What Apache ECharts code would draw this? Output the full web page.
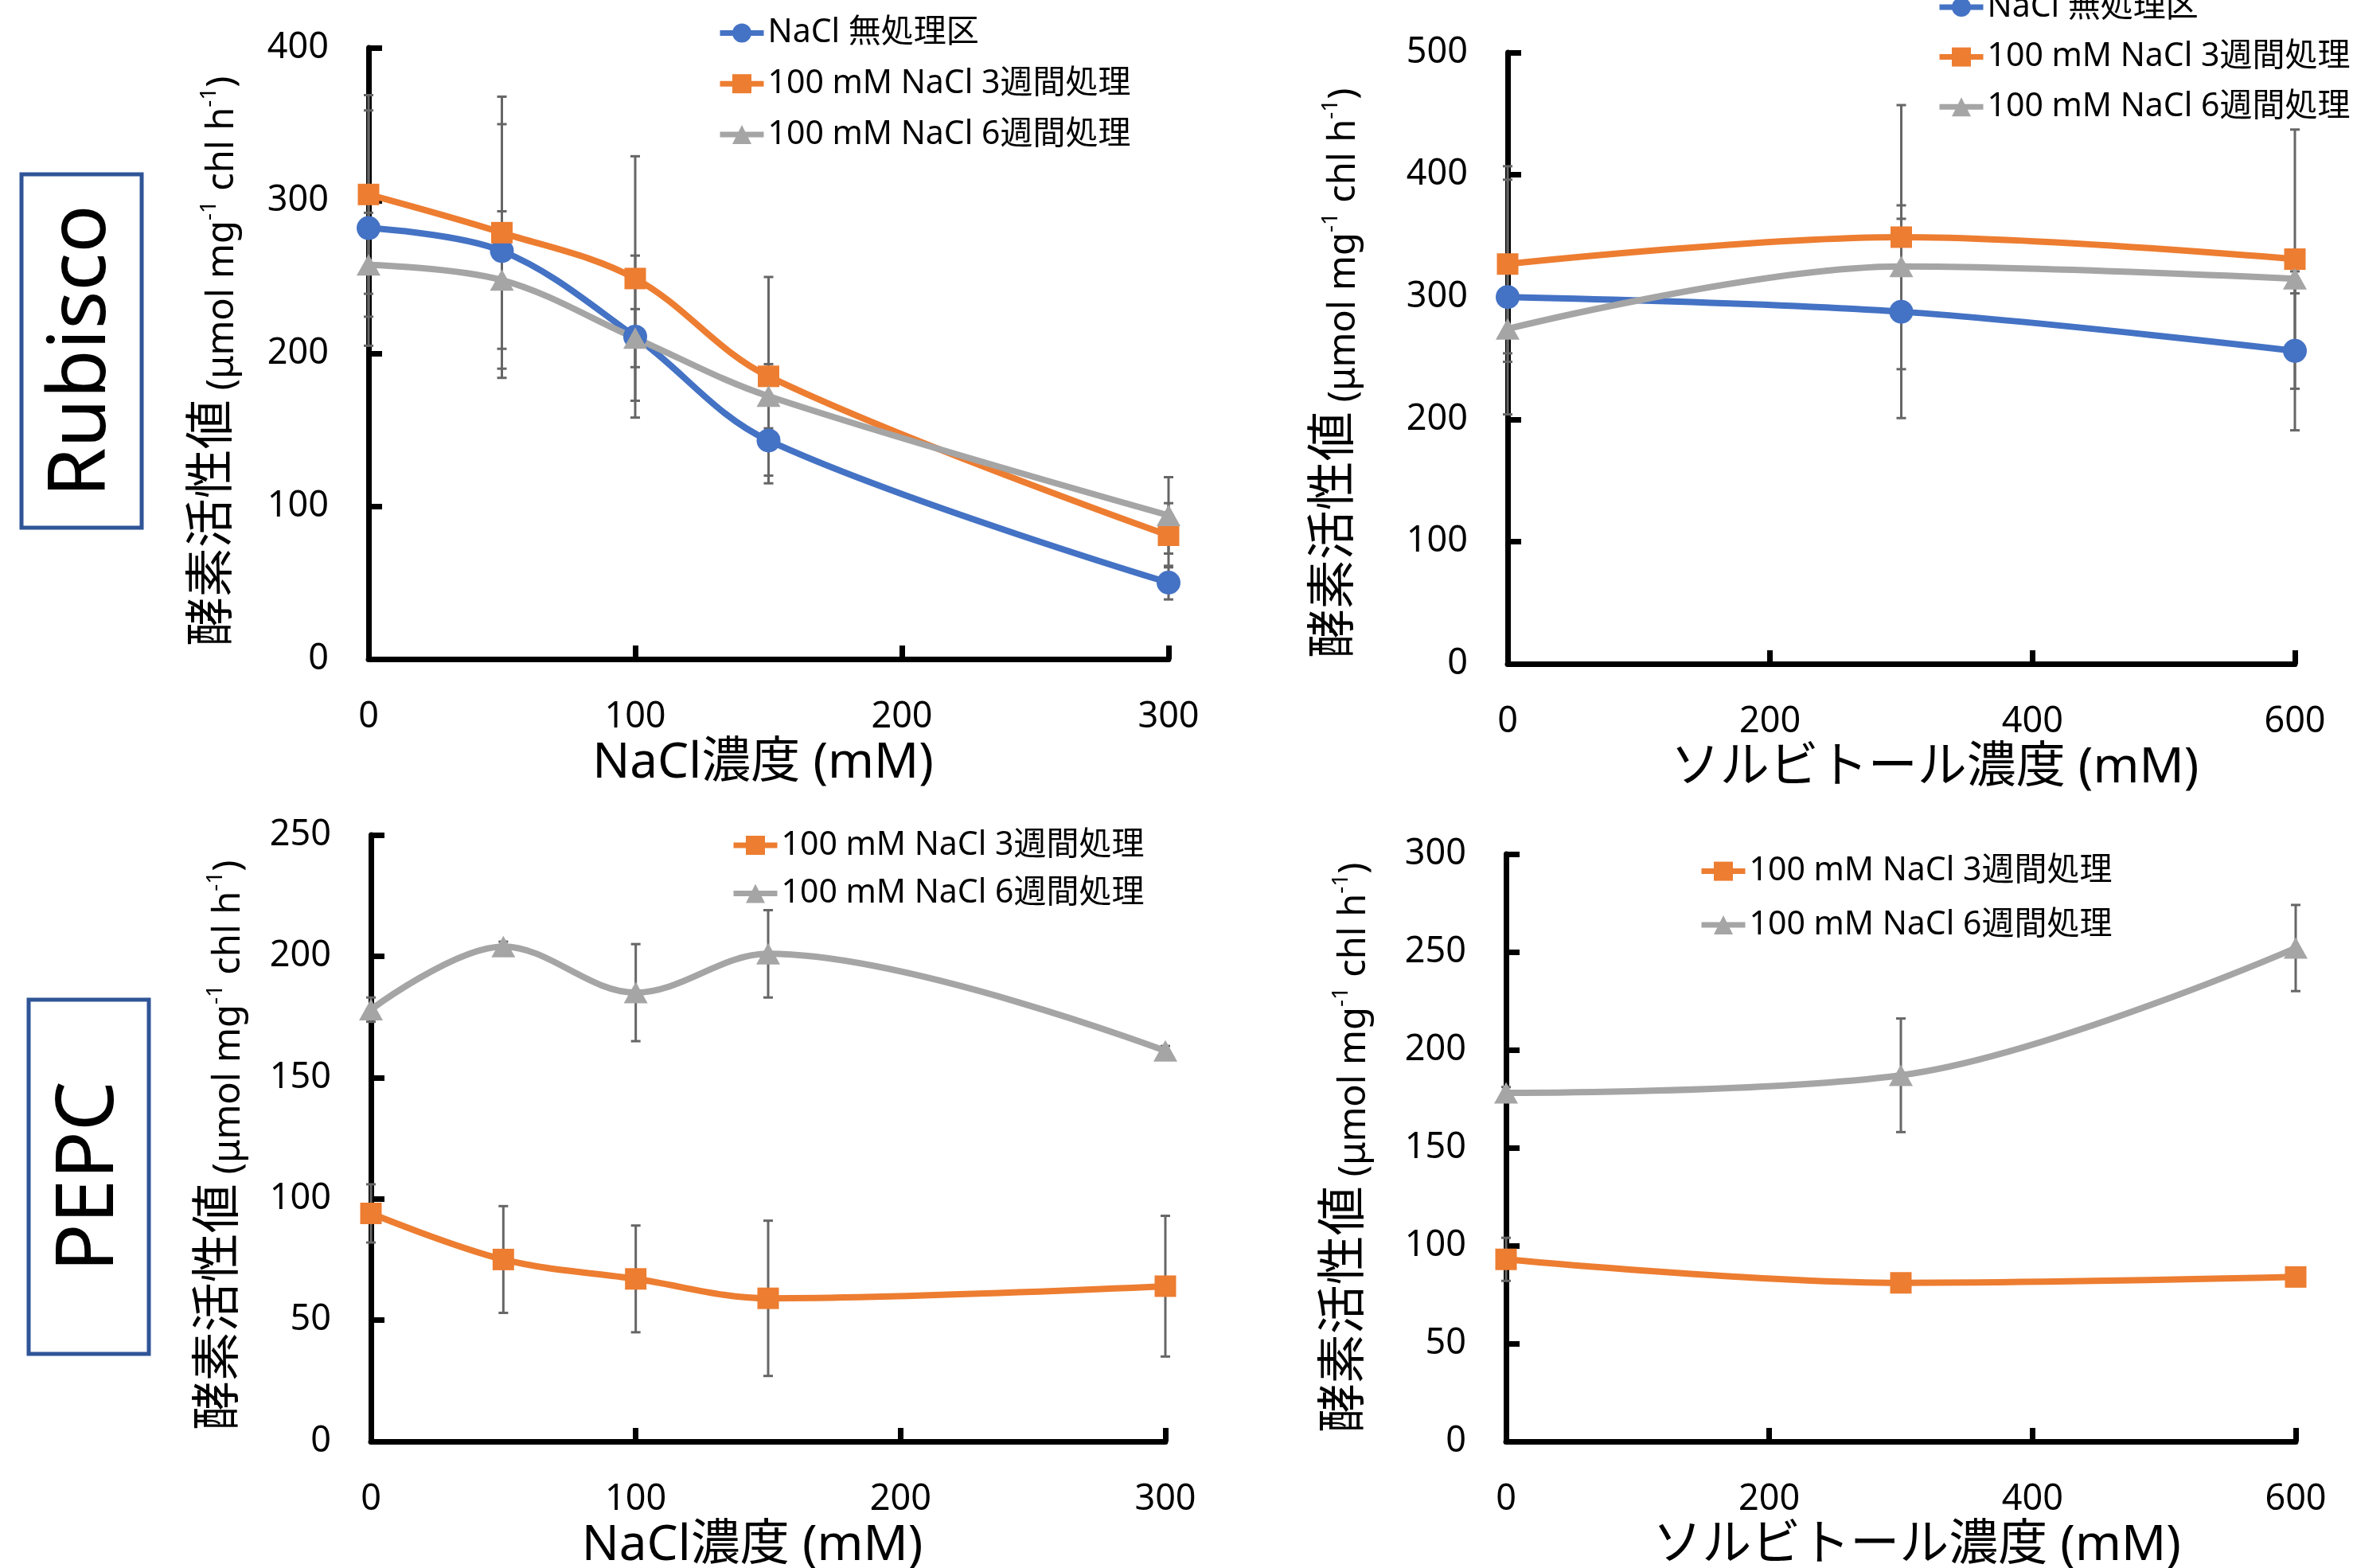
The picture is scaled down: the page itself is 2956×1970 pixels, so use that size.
<!DOCTYPE html>
<html><head><meta charset="utf-8">
<script src="https://cdn.jsdelivr.net/npm/echarts@6/dist/echarts.min.js"></script>
<style>html,body{margin:0;padding:0;background:#fff}#c{width:2956px;height:1970px}</style>
</head><body><div id="c"></div>
<script>
// ---------- data ----------
const NAME_CTRL = 'NaCl 無処理区';
const NAME_W3 = '100 mM NaCl 3週間処理';
const NAME_W6 = '100 mM NaCl 6週間処理';

const naclX = [0, 50, 100, 150, 300];
const sorbX = [0, 300, 600];

// Rubisco, NaCl
const rubNaclCtrl = [282, 267, 211, 143, 50];
const rubNaclCtrlErr = [77, 83, 53, 28, 11];
const rubNaclW3 = [304, 279, 249, 185, 81];
const rubNaclW3Err = [65, 89, 80, 65, 21];
const rubNaclW6 = [258, 248, 210, 172, 94];
const rubNaclW6Err = [34, 45, 19, 21, 25];

// Rubisco, sorbitol
const rubSorbCtrl = [300, 288, 256];
const rubSorbCtrlErr = [96, 87, 65];
const rubSorbW3 = [327, 349, 331];
const rubSorbW3Err = [80, 108, 106];
const rubSorbW6 = [274, 325, 315];
const rubSorbW6Err = [20, 39, 12];

// PEPC, NaCl
const pepNaclW3 = [94, 75, 67, 59, 64];
const pepNaclW3Err = [12, 22, 22, 32, 29];
const pepNaclW6 = [178, 204, 185, 201, 161];
const pepNaclW6Err = [5, 2, 20, 18, 2];

// PEPC, sorbitol
const pepSorbW3 = [93, 81, 84];
const pepSorbW3Err = [11, 2, 2];
const pepSorbW6 = [178, 187, 252];
const pepSorbW6Err = [3, 29, 22];

const xNameNacl = 'NaCl濃度 (mM)';
const xNameSorb = 'ソルビトール濃度 (mM)';
const yName = '{a|酵素活性値}{b| (μmol mg}{s|-1}{b| chl h}{s|-1}{b|)}';

// ---------- style ----------
const FONT = "'Noto Sans', 'Noto Sans CJK JP', sans-serif";
const C_BLUE = '#4472C4', C_ORANGE = '#ED7D31', C_GRAY = '#A5A5A5';

function errRender(params, api) {
  const x = api.value(0), lo = api.value(1), hi = api.value(2);
  const a = api.coord([x, hi]), b = api.coord([x, lo]);
  const w = 6;
  const st = { stroke: '#666666', lineWidth: 3 };
  return { type: 'group', children: [
    { type: 'line', shape: { x1: a[0], y1: a[1], x2: b[0], y2: b[1] }, style: st },
    { type: 'line', shape: { x1: a[0] - w, y1: a[1], x2: a[0] + w, y2: a[1] }, style: st },
    { type: 'line', shape: { x1: b[0] - w, y1: b[1], x2: b[0] + w, y2: b[1] }, style: st }
  ]};
}

const series = [];
function add(gi, name, xs, ys, es, color, symbol, size) {
  series.push({
    type: 'custom', name: 'err_' + gi + '_' + name, xAxisIndex: gi, yAxisIndex: gi,
    data: xs.map((x, i) => [x, ys[i] - es[i], ys[i] + es[i]]),
    encode: { x: 0, y: [1, 2] }, renderItem: errRender, z: 2, silent: true
  });
  series.push({
    type: 'line', name, xAxisIndex: gi, yAxisIndex: gi,
    data: xs.map((x, i) => [x, ys[i]]), smooth: 0.35,
    symbol, symbolSize: size, showSymbol: true,
    itemStyle: { color }, lineStyle: { color, width: 8 }, z: 3, silent: true
  });
}
const SZ_C = 30, SZ_R = 27, SZ_T = [30, 27];
add(0, NAME_CTRL, naclX, rubNaclCtrl, rubNaclCtrlErr, C_BLUE, 'circle', SZ_C);
add(0, NAME_W3, naclX, rubNaclW3, rubNaclW3Err, C_ORANGE, 'rect', SZ_R);
add(0, NAME_W6, naclX, rubNaclW6, rubNaclW6Err, C_GRAY, 'triangle', SZ_T);
add(1, NAME_CTRL, sorbX, rubSorbCtrl, rubSorbCtrlErr, C_BLUE, 'circle', SZ_C);
add(1, NAME_W3, sorbX, rubSorbW3, rubSorbW3Err, C_ORANGE, 'rect', SZ_R);
add(1, NAME_W6, sorbX, rubSorbW6, rubSorbW6Err, C_GRAY, 'triangle', SZ_T);
add(2, NAME_W3, naclX, pepNaclW3, pepNaclW3Err, C_ORANGE, 'rect', SZ_R);
add(2, NAME_W6, naclX, pepNaclW6, pepNaclW6Err, C_GRAY, 'triangle', SZ_T);
add(3, NAME_W3, sorbX, pepSorbW3, pepSorbW3Err, C_ORANGE, 'rect', SZ_R);
add(3, NAME_W6, sorbX, pepSorbW6, pepSorbW6Err, C_GRAY, 'triangle', SZ_T);

const grids = [
  { left: 463, top: 60, width: 1005, height: 768 },
  { left: 1894, top: 66, width: 989, height: 768 },
  { left: 466, top: 1049, width: 998, height: 762 },
  { left: 1892, top: 1073, width: 992, height: 738 }
].map(g => Object.assign({ outerBoundsMode: 'none', containLabel: false }, g));

const axisCommon = {
  type: 'value', splitLine: { show: false },
  axisLine: { show: true, onZero: false, lineStyle: { color: '#000', width: 7 } },
  axisTick: { show: true, inside: true, length: 17, lineStyle: { color: '#000', width: 7 } },
  nameMoveOverlap: false
};
function xAx(gi, max, interval, name, padL, padR) {
  return Object.assign({}, axisCommon, {
    gridIndex: gi, min: 0, max, interval,
    axisLabel: { fontSize: 45, color: '#000', margin: 51, fontFamily: FONT },
    name, nameLocation: 'middle', nameGap: 100,
    nameTextStyle: { fontSize: 62, color: '#000', fontFamily: FONT, padding: [0, padR, 0, padL] }
  });
}
function yAx(gi, max, interval, gap, padR) {
  return Object.assign({}, axisCommon, {
    gridIndex: gi, min: 0, max, interval,
    axisLabel: { fontSize: 45, color: '#000', margin: 50, fontFamily: FONT },
    name: yName, nameLocation: 'middle', nameRotate: 90, nameGap: gap,
    nameTextStyle: {
      color: '#000', fontFamily: FONT, padding: [0, padR, 0, 0],
      rich: {
        a: { fontSize: 62, fontFamily: FONT, color: '#000', lineHeight: 70 },
        b: { fontSize: 47, fontFamily: FONT, color: '#000', lineHeight: 56, verticalAlign: 'bottom' },
        s: { fontSize: 28, fontFamily: FONT, color: '#000', lineHeight: 30, verticalAlign: 'bottom', padding: [0, 0, 26, 0] }
      }
    }
  });
}

function legend(left, top, gap, names) {
  return {
    orient: 'vertical', left, top, itemWidth: 55, itemHeight: 30, itemGap: gap, padding: 0,
    selectedMode: false, data: names,
    lineStyle: { width: 7 },
    textStyle: { fontSize: 41, lineHeight: 44, color: '#000', fontFamily: FONT }
  };
}

const option = {
  animation: false,
  backgroundColor: '#fff',
  grid: grids,
  xAxis: [
    xAx(0, 300, 100, xNameNacl, 0, 14),
    xAx(1, 600, 200, xNameSorb, 84, 0),
    xAx(2, 300, 100, xNameNacl, 0, 40),
    xAx(3, 600, 200, xNameSorb, 40, 0)
  ],
  yAxis: [
    yAx(0, 400, 100, 160, 20),
    yAx(1, 500, 100, 182, 38),
    yAx(2, 250, 50, 155, 18),
    yAx(3, 300, 50, 167, 0)
  ],
  legend: [
    legend(901, 19.5, 19.7, [NAME_CTRL, NAME_W3, NAME_W6]),
    legend(2433, -13, 18.6, [NAME_CTRL, NAME_W3, NAME_W6]),
    legend(918, 1040, 16.6, [NAME_W3, NAME_W6]),
    legend(2134, 1072.6, 23.4, [NAME_W3, NAME_W6])
  ],
  graphic: [
    { type: 'rect', shape: { x: 27, y: 219, width: 151, height: 444 }, style: { fill: 'none', stroke: '#2F5597', lineWidth: 5 } },
    { type: 'text', x: 104, y: 441, rotation: Math.PI / 2,
      style: { text: 'Rubisco', fontSize: 100, fontFamily: FONT, fill: '#000', align: 'center', verticalAlign: 'middle', textAlign: 'center', textVerticalAlign: 'middle' } },
    { type: 'rect', shape: { x: 36, y: 1256, width: 151, height: 445 }, style: { fill: 'none', stroke: '#2F5597', lineWidth: 5 } },
    { type: 'text', x: 114, y: 1478, rotation: Math.PI / 2,
      style: { text: 'PEPC', fontSize: 100, fontFamily: FONT, fill: '#000', align: 'center', verticalAlign: 'middle', textAlign: 'center', textVerticalAlign: 'middle' } }
  ],
  series
};

const chart = echarts.init(document.getElementById('c'), null, { renderer: 'canvas' });
chart.setOption(option);
</script>
</body></html>
